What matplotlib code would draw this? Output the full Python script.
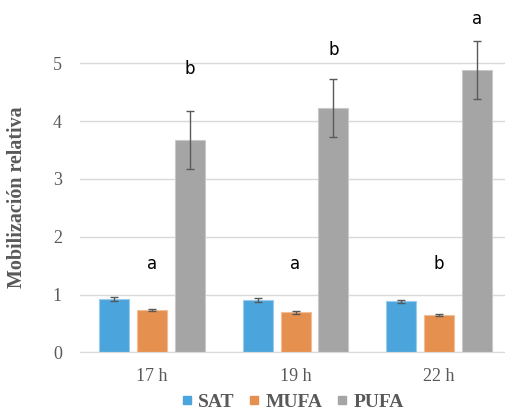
import matplotlib.pyplot as plt
import numpy as np
from matplotlib.lines import Line2D

# datos
horas = ['17 h', '19 h', '22 h']
series = ['SAT', 'MUFA', 'PUFA']
sat = [0.92, 0.905, 0.88]
mufa = [0.73, 0.69, 0.64]
pufa = [3.67, 4.23, 4.89]
sat_err = [0.03, 0.03, 0.03]
mufa_err = [0.02, 0.02, 0.02]
pufa_err = [0.5, 0.5, 0.5]

# letras de significancia: (grupo, serie, texto, altura)
letras = [(0, 1, 'a', 1.44), (0, 2, 'b', 4.81),
          (1, 1, 'a', 1.44), (1, 2, 'b', 5.14),
          (2, 1, 'b', 1.44), (2, 2, 'a', 5.68)]

colores = ['#4BA5DC', '#E6904F', '#A5A5A5']
bordes = ['#9ACBEB', '#F0BE98', '#C9C9C9']
gris = '#595959'

fig = plt.figure(figsize=(5.05, 4.16), dpi=100)
ax = fig.add_axes([80 / 505, 63.7 / 416, 425 / 505, 346.8 / 416])

x = np.arange(len(horas))
paso = 0.2646
ancho = 0.209
valores = [sat, mufa, pufa]
errores = [sat_err, mufa_err, pufa_err]
for i in range(3):
    ax.bar(x + (i - 1) * paso, valores[i], ancho, color=colores[i],
           edgecolor=bordes[i], linewidth=0.8, zorder=2)
    ax.errorbar(x + (i - 1) * paso, valores[i], yerr=errores[i], fmt='none',
                ecolor=gris, elinewidth=1, capsize=3, capthick=1, zorder=3)

for g, s, t, yy in letras:
    ax.text(g + (s - 1) * paso, yy, t, ha='center', va='baseline',
            fontsize=12, family='DejaVu Sans', color='black')

ax.set_xlim(-0.502, 2.46)
ax.set_ylim(0, 6)
ax.set_yticks(range(6))
ax.set_xticks(x)
ax.set_xticklabels(horas)
ax.grid(axis='y', color='#D9D9D9', linewidth=1, zorder=0)
ax.set_axisbelow(True)
for lado in ['top', 'right', 'left']:
    ax.spines[lado].set_visible(False)
ax.spines['bottom'].set_color('#D9D9D9')
ax.tick_params(length=0, labelsize=13, labelcolor=gris)
ax.tick_params(axis='x', pad=11)
ax.tick_params(axis='y', pad=13)
for lbl in ax.get_xticklabels() + ax.get_yticklabels():
    lbl.set_family('Liberation Serif')

ax.set_ylabel('Mobilización relativa', family='Liberation Serif',
              fontweight='bold', fontsize=14.4, color=gris)
ax.yaxis.set_label_coords(-0.125, 0.448)

manijas = [Line2D([], [], marker='s', linestyle='none', markersize=6,
                  color=c) for c in colores]
fig.legend(manijas, series, loc='lower center',
           bbox_to_anchor=(293 / 505, -5 / 416), borderpad=0,
           ncol=3, frameon=False, handlelength=0.5, handletextpad=0.35,
           columnspacing=0.75,
           prop={'family': 'Liberation Serif', 'weight': 'bold', 'size': 14},
           labelcolor=gris)

fig.savefig('out.png', dpi=100)
